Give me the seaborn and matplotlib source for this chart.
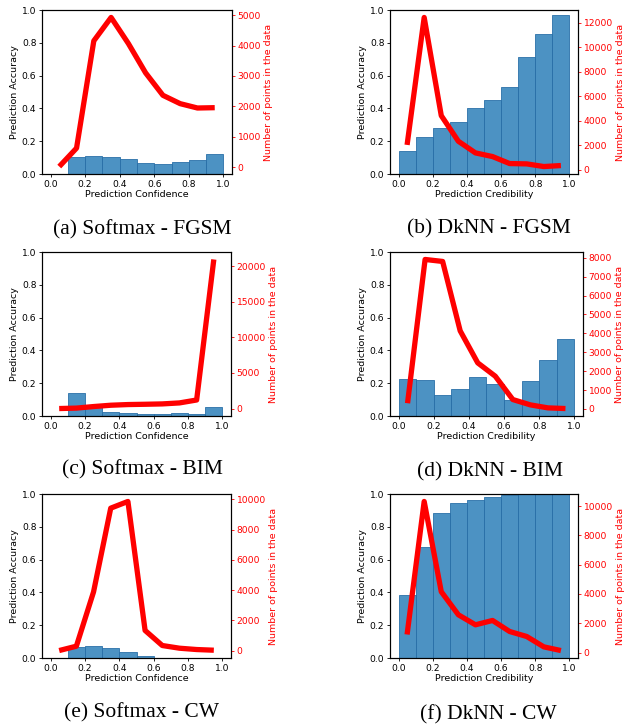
import numpy as np
import pandas as pd
import matplotlib
matplotlib.use("Agg")
import matplotlib.pyplot as plt
from matplotlib.ticker import MultipleLocator
import seaborn as sns

centers = [0.05, 0.15, 0.25, 0.35, 0.45, 0.55, 0.65, 0.75, 0.85, 0.95]
edges = [0.0, 0.1, 0.2, 0.3, 0.4, 0.5, 0.6, 0.7, 0.8, 0.9, 1.0]

acc_softmax_fgsm = [0.0, 0.105, 0.11, 0.105, 0.093, 0.068, 0.062, 0.075, 0.085, 0.122]
cnt_softmax_fgsm = [20, 626, 4154, 4923, 4066, 3099, 2363, 2088, 1945, 1956]

acc_dknn_fgsm = [0.14, 0.226, 0.28, 0.317, 0.402, 0.451, 0.53, 0.713, 0.856, 0.97]
cnt_dknn_fgsm = [2036, 12435, 4426, 2335, 1385, 1086, 516, 489, 272, 353]

acc_softmax_bim = [0.0, 0.14, 0.053, 0.024, 0.016, 0.01, 0.01, 0.018, 0.012, 0.055]
cnt_softmax_bim = [0, 60, 280, 465, 560, 600, 650, 790, 1200, 20930]

acc_dknn_bim = [0.223, 0.219, 0.128, 0.162, 0.235, 0.195, 0.097, 0.213, 0.341, 0.467]
cnt_dknn_bim = [300, 7915, 7809, 4134, 2438, 1731, 495, 212, 53, 18]

acc_softmax_cw = [0.0, 0.069, 0.075, 0.059, 0.035, 0.01, 0.0, 0.0, 0.0, 0.0]
cnt_softmax_cw = [0, 288, 3880, 9423, 9867, 1330, 333, 155, 67, 22]

acc_dknn_cw = [0.383, 0.676, 0.882, 0.943, 0.963, 0.98, 0.994, 1.0, 1.0, 1.0]
cnt_dknn_cw = [1233, 10320, 4155, 2580, 1895, 2192, 1438, 1096, 388, 137]

captions = ["(a) Softmax - FGSM", "(b) DkNN - FGSM", "(c) Softmax - BIM",
            "(d) DkNN - BIM", "(e) Softmax - CW", "(f) DkNN - CW"]
xlabels = ["Prediction Confidence", "Prediction Credibility"] * 3
right_tick_steps = [1000, 2000, 5000, 1000, 2000, 2000]

panels = [
    (acc_softmax_fgsm, cnt_softmax_fgsm),
    (acc_dknn_fgsm, cnt_dknn_fgsm),
    (acc_softmax_bim, cnt_softmax_bim),
    (acc_dknn_bim, cnt_dknn_bim),
    (acc_softmax_cw, cnt_softmax_cw),
    (acc_dknn_cw, cnt_dknn_cw),
]

W, H = 634, 727
# axes boxes in pixels: left, right, top, bottom
boxes = [
    (42, 232, 10, 174), (390, 578, 10, 174),
    (42, 231, 252, 416), (390, 583, 252, 416),
    (42, 231, 494, 658), (390, 578, 494, 658),
]
cap_pos = [(142, 230), (489, 229), (142, 470), (490, 472), (142, 713), (488, 715)]

fig = plt.figure(figsize=(W / 100, H / 100), dpi=100)
plt.rcParams['font.family'] = ['DejaVu Sans']

tick_fs = 6.6
label_fs = 6.8

for i, ((acc, cnt), (l, r, t, b)) in enumerate(zip(panels, boxes)):
    ax = fig.add_axes([l / W, 1 - b / H, (r - l) / W, (b - t) / H])
    df = pd.DataFrame({"x": centers, "acc": acc, "cnt": cnt})
    sns.histplot(data=df, x="x", weights="acc", bins=edges, ax=ax,
                 color="#1f77b4", alpha=0.8, edgecolor="#2a70a8", linewidth=0.6)
    ax.set_xlim(-0.05, 1.05)
    ax.set_ylim(0, 1.0)
    ax.set_xticks([0.0, 0.2, 0.4, 0.6, 0.8, 1.0])
    ax.set_yticks([0.0, 0.2, 0.4, 0.6, 0.8, 1.0])
    ax.set_xlabel(xlabels[i], fontsize=label_fs, labelpad=1)
    ax.set_ylabel("Prediction Accuracy", fontsize=label_fs, labelpad=2)
    ax.tick_params(labelsize=tick_fs, length=2.5, width=0.6, pad=1.5)
    for s in ax.spines.values():
        s.set_linewidth(0.8)

    ax2 = ax.twinx()
    sns.lineplot(data=df, x="x", y="cnt", ax=ax2, color="red", linewidth=3.8,
                 solid_capstyle="butt")
    ax2.set_xlim(-0.05, 1.05)
    lo, hi = min(cnt), max(cnt)
    m = 0.05 * (hi - lo)
    ax2.set_ylim(lo - m, hi + m)
    ax2.yaxis.set_major_locator(MultipleLocator(right_tick_steps[i]))
    ax2.set_ylabel("Number of points in the data", color="red", fontsize=label_fs, labelpad=2)
    ax2.tick_params(axis="y", colors="red", labelcolor="red", labelsize=tick_fs,
                    length=2.5, width=0.6, pad=1.5)
    for s in ax2.spines.values():
        s.set_linewidth(0.8)
    ax2.spines["right"].set_color("black")

    cx, cy = cap_pos[i]
    fig.text(cx / W, 1 - cy / H, captions[i], ha="center", va="center",
             fontsize=15.5, family=["Liberation Serif", "DejaVu Serif"])

fig.savefig("out.png", dpi=100)
